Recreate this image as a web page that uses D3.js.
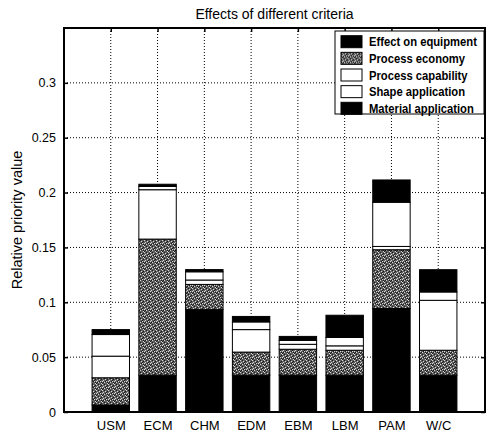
<!DOCTYPE html>
<html>
<head>
<meta charset="utf-8">
<script src="https://cdn.jsdelivr.net/npm/d3@7"></script>
<style>
  body { margin: 0; background: #fff; }
  text { font-family: "Liberation Sans", Arial, sans-serif; fill: #000; }
</style>
</head>
<body>
<svg id="chart" width="488" height="434"></svg>
<script>
// ---------------------------------------------------------------
//    DATA
// ---------------------------------------------------------------
const categories = ["USM", "ECM", "CHM", "EDM", "EBM", "LBM", "PAM", "W/C"];
const criteria = ["Effect on equipment", "Process economy", "Process capability", "Shape application", "Material application"];

const equipment  = [0.0064, 0.0336, 0.0933, 0.0336, 0.0336, 0.0336, 0.0943, 0.0336];
const economy    = [0.0248, 0.1240, 0.0230, 0.0210, 0.0236, 0.0227, 0.0536, 0.0227];
const capability = [0.0197, 0.0450, 0.0040, 0.0205, 0.0045, 0.0040, 0.0030, 0.0455];
const shape      = [0.0197, 0.0030, 0.0075, 0.0070, 0.0036, 0.0076, 0.0403, 0.0076];
const material   = [0.0045, 0.0020, 0.0020, 0.0050, 0.0036, 0.0203, 0.0203, 0.0203];

const yTicks = [0, 0.05, 0.1, 0.15, 0.2, 0.25, 0.3];
const yTickLabels = ["0", "0.05", "0.1", "0.15", "0.2", "0.25", "0.3"];

// fills per criterion, bottom to top
const fills = ["#000", "url(#halftone)", "#fff", "#fff", "#000"];

const rows = categories.map((c, i) => ({
    cat: c,
    idx: i + 1,
    "Effect on equipment": equipment[i],
    "Process economy": economy[i],
    "Process capability": capability[i],
    "Shape application": shape[i],
    "Material application": material[i]
}));

// ---------------------------------------------------------------
//    LAYOUT
// ---------------------------------------------------------------
const svg = d3.select("#chart");
const plotL = 64, plotR = 485, plotT = 28, plotB = 412;
const tickLen = 4;

const x = d3.scaleLinear().domain([0, 9]).range([plotL, plotR]);
const y = d3.scaleLinear().domain([0, 0.35]).range([plotB, plotT]);
const barW = x(0.8) - x(0);

// halftone texture for "Process economy"
const defs = svg.append("defs");
const pat = defs.append("pattern")
    .attr("id", "halftone")
    .attr("patternUnits", "userSpaceOnUse")
    .attr("width", 6).attr("height", 6);
pat.append("rect").attr("width", 6).attr("height", 6).attr("fill", "#5e5e5e");
const lightDots = [[0, 0], [3, 1], [1, 2], [4, 3], [2, 4], [5, 5], [0, 3]];
const darkDots = [[2, 0], [5, 1], [0, 5], [4, 2], [1, 4], [3, 3], [5, 4]];
lightDots.forEach(d => pat.append("rect").attr("x", d[0]).attr("y", d[1]).attr("width", 1).attr("height", 1).attr("fill", "#d8d8d8"));
darkDots.forEach(d => pat.append("rect").attr("x", d[0]).attr("y", d[1]).attr("width", 1).attr("height", 1).attr("fill", "#1a1a1a"));

// grid (dotted, behind bars)
svg.append("g").selectAll("line")
    .data(yTicks.slice(1))
    .join("line")
    .attr("x1", plotL).attr("x2", plotR)
    .attr("y1", d => y(d)).attr("y2", d => y(d))
    .attr("stroke", "#000").attr("stroke-width", 1)
    .attr("stroke-dasharray", "1,2");

svg.append("g").selectAll("line")
    .data(rows)
    .join("line")
    .attr("x1", d => x(d.idx)).attr("x2", d => x(d.idx))
    .attr("y1", plotT).attr("y2", plotB)
    .attr("stroke", "#000").attr("stroke-width", 1)
    .attr("stroke-dasharray", "1,2");

// stacked bars
const stack = d3.stack().keys(criteria);
const series = stack(rows);

svg.append("g").selectAll("g")
    .data(series)
    .join("g")
    .attr("fill", (d, i) => fills[i])
    .selectAll("rect")
    .data(d => d)
    .join("rect")
    .attr("x", d => x(d.data.idx) - barW / 2)
    .attr("width", barW)
    .attr("y", d => y(d[1]))
    .attr("height", d => y(d[0]) - y(d[1]))
    .attr("stroke", "#000")
    .attr("stroke-width", 1);

// axes frame
svg.append("rect")
    .attr("x", plotL).attr("y", plotT)
    .attr("width", plotR - plotL).attr("height", plotB - plotT)
    .attr("fill", "none").attr("stroke", "#000").attr("stroke-width", 2);

// y ticks, left and right, inward
const yAxis = d3.axisLeft(y)
    .tickValues(yTicks)
    .tickFormat((d, i) => yTickLabels[i])
    .tickSizeInner(-tickLen)
    .tickSizeOuter(0)
    .tickPadding(4 + tickLen);
const gy = svg.append("g").attr("transform", `translate(${plotL},0)`).call(yAxis);
gy.select(".domain").remove();
gy.selectAll("line").attr("stroke-width", 1.5);
gy.selectAll("text").attr("font-size", 12.5).style("font-family", "'Liberation Sans', Arial, sans-serif");

const gyr = svg.append("g").attr("transform", `translate(${plotR},0)`)
    .call(d3.axisRight(y).tickValues(yTicks).tickFormat("").tickSizeInner(-tickLen).tickSizeOuter(0));
gyr.select(".domain").remove();
gyr.selectAll("line").attr("stroke-width", 1.5);

// x ticks
const xAxis = d3.axisBottom(x)
    .tickValues(rows.map(d => d.idx))
    .tickFormat((d, i) => categories[i])
    .tickSizeInner(-tickLen)
    .tickSizeOuter(0)
    .tickPadding(5 + tickLen);
const gx = svg.append("g").attr("transform", `translate(0,${plotB})`).call(xAxis);
gx.select(".domain").remove();
gx.selectAll("line").attr("stroke-width", 1.5);
gx.selectAll("text").attr("font-size", 13).style("font-family", "'Liberation Sans', Arial, sans-serif");

const gxt = svg.append("g").attr("transform", `translate(0,${plotT})`)
    .call(d3.axisTop(x).tickValues(rows.map(d => d.idx)).tickFormat("").tickSizeInner(-tickLen).tickSizeOuter(0));
gxt.select(".domain").remove();
gxt.selectAll("line").attr("stroke-width", 1.5);

// title and y label
svg.append("text")
    .attr("x", (plotL + plotR) / 2).attr("y", 19)
    .attr("text-anchor", "middle")
    .attr("font-size", 14)
    .text("Effects of different criteria");

svg.append("text")
    .attr("transform", `translate(22,${(plotT + plotB) / 2}) rotate(-90)`)
    .attr("text-anchor", "middle")
    .attr("font-size", 14.5)
    .text("Relative priority value");

// legend
const lg = svg.append("g");
lg.append("rect")
    .attr("x", 335).attr("y", 31)
    .attr("width", 149).attr("height", 83)
    .attr("fill", "#fff").attr("stroke", "#000").attr("stroke-width", 1);

const item = lg.selectAll("g")
    .data(criteria)
    .join("g")
    .attr("transform", (d, i) => `translate(0,${41.7 + i * 16.65})`);

item.append("rect")
    .attr("x", 341).attr("y", -6)
    .attr("width", 21).attr("height", 12)
    .attr("fill", (d, i) => fills[i])
    .attr("stroke", "#000").attr("stroke-width", 1);

// the original legend font is condensed, so squeeze the labels horizontally
const labels = item.append("text")
    .attr("x", 0).attr("y", 4.5)
    .attr("font-size", 13)
    .attr("font-weight", "bold")
    .text(d => d);
const widest = d3.max(labels.nodes(), n => n.getComputedTextLength());
const squeeze = Math.min(1, 108 / widest);
labels.attr("transform", `translate(369,0) scale(${squeeze},1)`);
</script>
</body>
</html>
